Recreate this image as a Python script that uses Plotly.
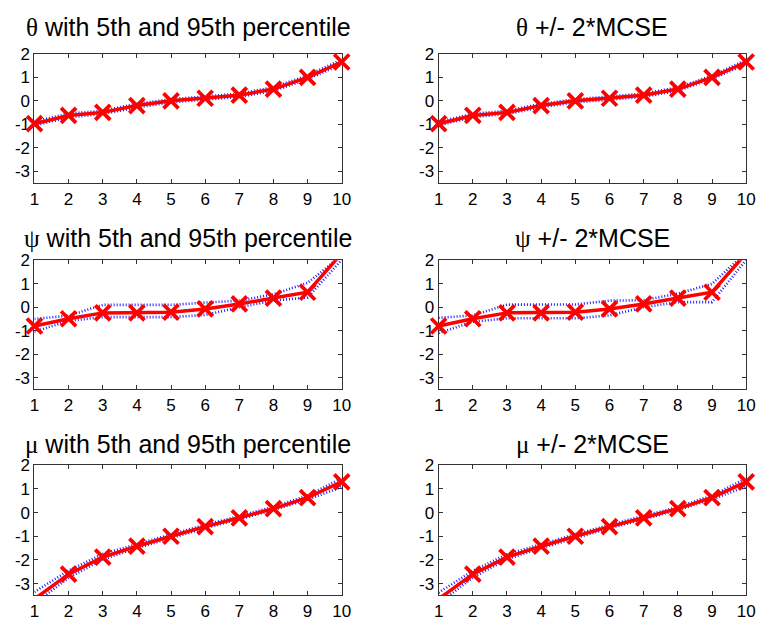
import plotly.graph_objects as go

x = [1, 2, 3, 4, 5, 6, 7, 8, 9, 10]

theta_mean = [-0.97, -0.62, -0.49, -0.20, 0.00, 0.11, 0.24, 0.50, 1.00, 1.65]
theta_p05 = [-1.05, -0.70, -0.56, -0.28, -0.07, 0.04, 0.17, 0.42, 0.92, 1.55]
theta_p95 = [-0.88, -0.54, -0.42, -0.12, 0.07, 0.18, 0.31, 0.58, 1.08, 1.75]
theta_mcse_lo = [-1.04, -0.69, -0.56, -0.27, -0.07, 0.04, 0.17, 0.43, 0.93, 1.56]
theta_mcse_hi = [-0.89, -0.55, -0.42, -0.13, 0.07, 0.18, 0.31, 0.57, 1.07, 1.74]

psi_mean = [-0.80, -0.49, -0.24, -0.24, -0.21, -0.07, 0.14, 0.39, 0.64, 2.30]
psi_p05 = [-1.04, -0.58, -0.42, -0.42, -0.42, -0.33, 0.00, 0.28, 0.42, 2.02]
psi_p95 = [-0.50, -0.36, 0.10, 0.10, 0.10, 0.20, 0.28, 0.55, 1.04, 2.20]
psi_mcse_lo = [-1.10, -0.62, -0.47, -0.47, -0.47, -0.35, 0.00, 0.22, 0.22, 2.02]
psi_mcse_hi = [-0.45, -0.35, 0.11, 0.12, 0.12, 0.28, 0.30, 0.58, 1.00, 2.35]

mu_mean = [-3.65, -2.60, -1.88, -1.42, -1.00, -0.59, -0.22, 0.17, 0.63, 1.30]
mu_p05 = [-3.85, -2.75, -1.98, -1.50, -1.08, -0.66, -0.28, 0.11, 0.55, 1.08]
mu_p95 = [-3.35, -2.45, -1.75, -1.32, -0.92, -0.52, -0.15, 0.24, 0.72, 1.45]
mu_mcse_lo = [-3.85, -2.74, -1.97, -1.50, -1.08, -0.66, -0.28, 0.11, 0.56, 1.10]
mu_mcse_hi = [-3.38, -2.46, -1.76, -1.33, -0.92, -0.52, -0.15, 0.24, 0.72, 1.45]

titles = [
    ("θ", " with 5th and 95th percentile"), ("θ", " +/- 2*MCSE"),
    ("ψ", " with 5th and 95th percentile"), ("ψ", " +/- 2*MCSE"),
    ("μ", " with 5th and 95th percentile"), ("μ", " +/- 2*MCSE"),
]
panels = [
    (theta_mean, theta_p05, theta_p95), (theta_mean, theta_mcse_lo, theta_mcse_hi),
    (psi_mean, psi_p05, psi_p95), (psi_mean, psi_mcse_lo, psi_mcse_hi),
    (mu_mean, mu_p05, mu_p95), (mu_mean, mu_mcse_lo, mu_mcse_hi),
]

x_ticks = list(range(1, 11))
y_ticks = [2, 1, 0, -1, -2, -3]
y_ticktext = ["2", "1", "0", "-1", "-2", "-3"]
y_range = [-3.5, 2]
x_range = [1, 10]

W, H = 766, 621
col_px = [(30, 343), (441.7, 755)]
row_px = [(45.7, 178), (256.7, 388.5), (466, 599)]
title_y_px = [18, 234, 444]

fig = go.Figure()
layout = dict(
    width=W, height=H, margin=dict(l=0, r=0, t=0, b=0),
    paper_bgcolor="white", plot_bgcolor="white", showlegend=False,
    font=dict(family="Liberation Sans, Arial", size=17, color="black"),
)
annotations = []

for i, (mean, lo, hi) in enumerate(panels):
    r, c = divmod(i, 2)
    n = i + 1
    xa = "x" if n == 1 else f"x{n}"
    ya = "y" if n == 1 else f"y{n}"
    for band in (lo, hi):
        fig.add_trace(go.Scatter(x=x, y=band, xaxis=xa, yaxis=ya, mode="lines",
                                 line=dict(color="#1a1aff", width=2.6, dash="1px,2px"),
                                 hoverinfo="skip"))
    fig.add_trace(go.Scatter(x=x, y=mean, xaxis=xa, yaxis=ya, mode="lines",
                             line=dict(color="#ff0000", width=3.5), hoverinfo="skip"))
    vis = [v if y_range[0] <= v <= y_range[1] else None for v in mean]
    fig.add_trace(go.Scatter(x=x, y=vis, xaxis=xa, yaxis=ya, mode="markers",
                             marker=dict(symbol="x-thin", size=15, color="#ff0000",
                                         line=dict(color="#ff0000", width=3.8)),
                             cliponaxis=False, hoverinfo="skip"))
    x0, x1 = col_px[c]
    yt, yb = row_px[r]
    axis_common = dict(showline=True, linecolor="#333333", linewidth=1, mirror="allticks",
                       ticks="inside", ticklen=4, tickcolor="#333333", tickwidth=1,
                       showgrid=False, zeroline=False, tickfont=dict(size=17),
                       layer="below traces")
    layout["xaxis" if n == 1 else f"xaxis{n}"] = dict(
        domain=[x0 / W, x1 / W], range=x_range, anchor=ya,
        tickmode="array", tickvals=x_ticks, ticktext=[str(t) for t in x_ticks], **axis_common)
    layout["yaxis" if n == 1 else f"yaxis{n}"] = dict(
        domain=[1 - yb / H, 1 - yt / H], range=y_range, anchor=xa,
        tickmode="array", tickvals=y_ticks, ticktext=y_ticktext, **axis_common)
    sym, rest = titles[i]
    annotations.append(dict(
        text=f'<span style="font-family:Liberation Serif">{sym}</span>{rest}',
        x=(x0 + x1) / 2 / W, y=1 - title_y_px[r] / H, xref="paper", yref="paper",
        xanchor="center", yanchor="middle", showarrow=False,
        font=dict(size=25, family="Liberation Sans, Arial", color="black")))

layout["annotations"] = annotations
fig.update_layout(**layout)
fig.write_html("out.html", config={"displayModeBar": False},
               post_script="document.body.style.margin='0';document.body.style.overflow='hidden';")
